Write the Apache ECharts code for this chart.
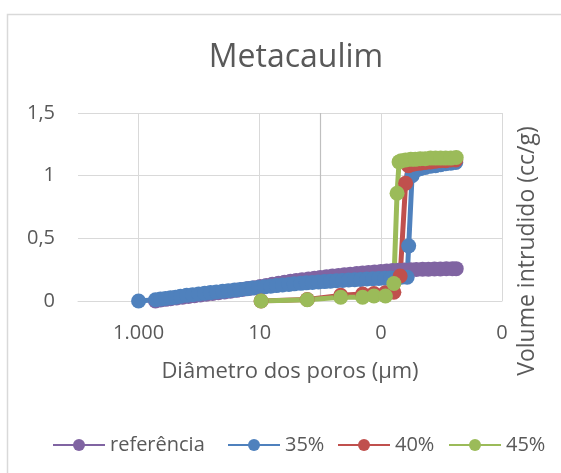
<!DOCTYPE html>
<html>
<head>
<meta charset="utf-8">
<script src="https://cdn.jsdelivr.net/npm/echarts@6/dist/echarts.min.js"></script>
<style>
  html, body { margin: 0; padding: 0; background: #ffffff; }
  #chart { width: 561px; height: 473px; }
</style>
</head>
<body>
<div id="chart"></div>
<script>
// Mercury intrusion curves: pore diameter (µm) vs. intruded volume (cc/g)
const seriesNames = ['referência', '35%', '40%', '45%'];

const diamRef = [525, 434, 358, 296, 236, 188, 150, 119, 95, 76, 60, 48, 38, 30.5, 24, 19.4, 15.4, 12.3, 9.8, 7.8,
  6.2, 4.9, 3.9, 3.1, 2.5, 2.0, 1.57, 1.25, 1.0, 0.79, 0.63, 0.5, 0.4, 0.32, 0.25, 0.2, 0.16, 0.127, 0.1, 0.08,
  0.064, 0.051, 0.041, 0.032, 0.026, 0.0205, 0.0164, 0.013, 0.0104, 0.0083, 0.0066, 0.0057];
const volRef = [0, 0.008, 0.013, 0.018, 0.024, 0.03, 0.036, 0.042, 0.048, 0.054, 0.06, 0.066, 0.072, 0.078, 0.085,
  0.092, 0.099, 0.106, 0.115, 0.124, 0.133, 0.142, 0.15, 0.157, 0.163, 0.169, 0.175, 0.181, 0.187, 0.193,
  0.199, 0.204, 0.209, 0.214, 0.219, 0.224, 0.228, 0.232, 0.236, 0.24, 0.243, 0.246, 0.248, 0.25, 0.252,
  0.253, 0.254, 0.255, 0.256, 0.257, 0.258, 0.258];

const diam35 = [1000, 525, 434, 358, 296, 245, 203, 161, 128, 102, 81, 65, 52, 41, 33, 26, 21, 16.5, 13.2, 10.5,
  8.3, 6.6, 5.3, 4.2, 3.3, 2.7, 2.1, 1.7, 1.35, 1.07, 0.85, 0.68, 0.54, 0.43, 0.34, 0.27, 0.215, 0.17, 0.135, 0.108,
  0.086, 0.068, 0.054, 0.046, 0.0368, 0.0347, 0.0305, 0.027, 0.0224, 0.0185, 0.0151, 0.0125, 0.0103, 0.0085, 0.007, 0.0058];
const vol35 = [0, 0.01, 0.015, 0.02, 0.025, 0.03, 0.038, 0.045, 0.05, 0.056, 0.062, 0.067, 0.072, 0.077, 0.082,
  0.087, 0.092, 0.097, 0.103, 0.108, 0.113, 0.118, 0.123, 0.128, 0.132, 0.137, 0.141, 0.145, 0.148, 0.152,
  0.155, 0.158, 0.161, 0.164, 0.167, 0.17, 0.172, 0.175, 0.177, 0.179, 0.181, 0.183, 0.186, 0.19, 0.19,
  0.44, 1.0, 1.04, 1.055, 1.065, 1.075, 1.08, 1.088, 1.095, 1.1, 1.105];

const diam40 = [9.5, 1.64, 0.46, 0.2, 0.13, 0.084, 0.061, 0.048, 0.039, 0.035, 0.031, 0.027, 0.0224, 0.0185,
  0.0151, 0.0125, 0.0103, 0.0085, 0.007, 0.0058];
const vol40 = [0, 0.012, 0.045, 0.055, 0.06, 0.065, 0.07, 0.2, 0.94, 1.08, 1.09, 1.095, 1.1, 1.105, 1.11,
  1.115, 1.12, 1.12, 1.125, 1.125];

const diam45 = [9.5, 1.64, 0.46, 0.2, 0.13, 0.084, 0.061, 0.054, 0.05, 0.046, 0.039, 0.032, 0.027, 0.0224,
  0.0185, 0.0151, 0.0125, 0.0103, 0.0085, 0.007, 0.0057];
const vol45 = [0, 0.01, 0.03, 0.03, 0.04, 0.04, 0.14, 0.86, 1.11, 1.12, 1.125, 1.13, 1.13, 1.135, 1.135, 1.14,
  1.14, 1.14, 1.14, 1.14, 1.145];

const xTickValues = [0.001, 0.1, 10, 1000];

const palette = ['#8064A2', '#4F81BD', '#C0504D', '#9BBB59'];
const FONT = 'Open Sans';
const TEXT = '#595959';
const GRID = '#d9d9d9';
const legendLefts = [47, 222, 332, 443];

function pairs(xs, ys) { return xs.map((x, i) => [x, ys[i]]); }

function curve(name, xs, ys, color) {
  return {
    name: name,
    type: 'line',
    data: pairs(xs, ys),
    symbol: 'circle',
    symbolSize: 15,
    showSymbol: true,
    lineStyle: { color: color, width: 5 },
    itemStyle: { color: color },
    emphasis: { disabled: true },
    animation: false
  };
}

const chart = echarts.init(document.getElementById('chart'), null, { renderer: 'canvas' });

const series = [
  curve(seriesNames[0], diamRef, volRef, palette[0]),
  curve(seriesNames[1], diam35, vol35, palette[1]),
  curve(seriesNames[2], diam40, vol40, palette[2]),
  curve(seriesNames[3], diam45, vol45, palette[3])
];
// vertical axis crossing at 1 µm
series[0].markLine = {
  silent: true,
  symbol: 'none',
  label: { show: false },
  lineStyle: { color: '#bfbfbf', type: 'solid', width: 1.2 },
  data: [{ xAxis: 1 }],
  z: 1,
  animation: false
};

chart.setOption({
  animation: false,
  backgroundColor: '#ffffff',
  textStyle: { fontFamily: FONT },
  title: {
    text: 'Metacaulim',
    left: 291,
    top: 37,
    textAlign: 'center',
    textStyle: { fontFamily: FONT, fontSize: 32, fontWeight: 'normal', color: TEXT }
  },
  grid: { left: 78, right: 59, top: 113, bottom: 172, containLabel: false },
  xAxis: {
    type: 'log',
    logBase: 10,
    min: 0.001,
    max: 10000,
    inverse: true,
    name: 'Diâmetro dos poros (µm)',
    nameLocation: 'middle',
    nameGap: 60,
    nameTextStyle: { fontFamily: FONT, fontSize: 22, color: TEXT },
    axisLine: { show: true, lineStyle: { color: GRID, width: 1 } },
    axisTick: { show: false, customValues: xTickValues },
    axisLabel: {
      customValues: xTickValues,
      margin: 22,
      fontFamily: FONT, fontSize: 20, color: TEXT,
      formatter: v => String(Math.round(v)).replace(/\B(?=(\d{3})+(?!\d))/g, '.')
    },
    splitLine: { show: true, lineStyle: { color: GRID, width: 1 } },
    minorSplitLine: { show: false }
  },
  yAxis: {
    type: 'value',
    min: 0,
    max: 1.5,
    interval: 0.5,
    axisLine: { show: false },
    axisTick: { show: false },
    axisLabel: {
      margin: 23,
      fontFamily: FONT, fontSize: 20, color: TEXT,
      formatter: v => String(v).replace('.', ',')
    },
    splitLine: { show: true, lineStyle: { color: GRID, width: 1 } }
  },
  // one legend box per entry
  legend: seriesNames.map((n, i) => ({
    data: [n],
    left: legendLefts[i],
    top: 430,
    itemWidth: 52,
    itemHeight: 15,
    textStyle: { fontFamily: FONT, fontSize: 20, color: TEXT },
    selectedMode: false
  })),
  graphic: [
    {
      type: 'rect',
      shape: { x: 7.5, y: 14.5, width: 700, height: 700 },
      style: { fill: 'none', stroke: GRID, lineWidth: 1.5 },
      silent: true, z: -10
    },
    {
      type: 'text',
      x: 527,
      y: 251,
      rotation: Math.PI / 2,
      style: {
        text: 'Volume intrudido (cc/g)',
        fontFamily: FONT, fontSize: 23, fill: TEXT,
        align: 'center', verticalAlign: 'middle'
      },
      silent: true
    }
  ],
  series: series
});
</script>
</body>
</html>
